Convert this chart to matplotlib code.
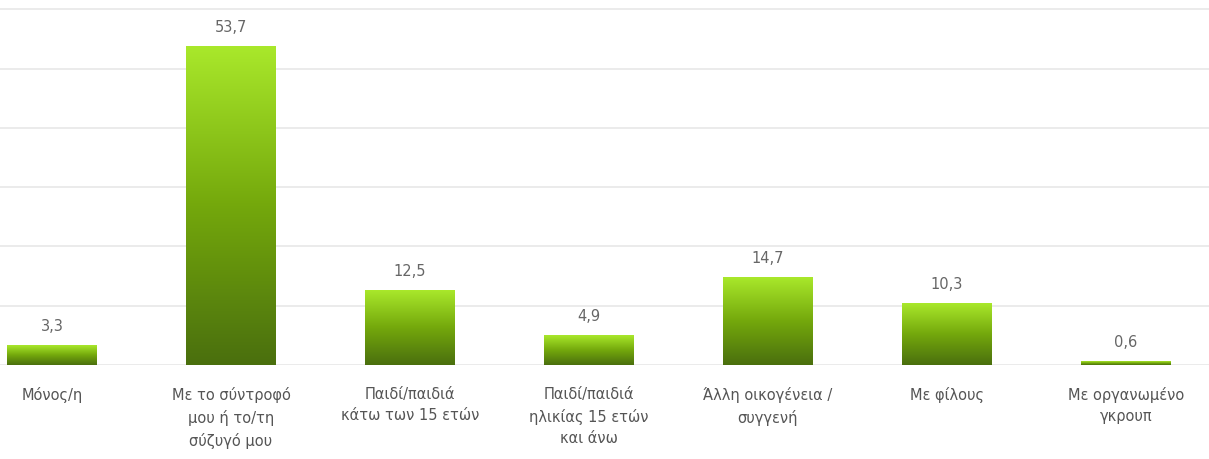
import matplotlib
matplotlib.use("Agg")
import matplotlib.pyplot as plt
import numpy as np
from matplotlib.colors import LinearSegmentedColormap

categories = ["Μόνος/η", "Με το σύντροφό\nμου ή το/τη\nσύζυγό μου", "Παιδί/παιδιά\nκάτω των 15 ετών",
              "Παιδί/παιδιά\nηλικίας 15 ετών\nκαι άνω", "Άλλη οικογένεια /\nσυγγενή", "Με φίλους",
              "Με οργανωμένο\nγκρουπ"]
values = [3.3, 53.7, 12.5, 4.9, 14.7, 10.3, 0.6]
value_labels = ["3,3", "53,7", "12,5", "4,9", "14,7", "10,3", "0,6"]
grid_ticks = [0, 10, 20, 30, 40, 50, 60]

plt.rcParams['font.family'] = ['DejaVu Sans']

fig = plt.figure(figsize=(12.09, 4.59), dpi=100)
ax = fig.add_axes([0, 94/459, 1, 365/459])
x = np.arange(len(categories))
bars = ax.bar(x, values, width=0.5, color='none', edgecolor='none', zorder=2)

cmap = LinearSegmentedColormap.from_list('g', ['#4a6f0e', '#74a80c', '#a9e82b'])
grad = np.linspace(0, 1, 256).reshape(-1, 1)
for b in bars:
    x0, y0 = b.get_x(), b.get_y()
    w, h = b.get_width(), b.get_height()
    ax.imshow(grad, cmap=cmap, origin='lower', aspect='auto',
              extent=[x0, x0 + w, y0, y0 + max(h, 0.3)], zorder=3, interpolation='bilinear')

for xi, v, lab in zip(x, values, value_labels):
    ax.text(xi, v + 2.0, lab, ha='center', va='bottom', fontsize=10.5, color='#666666')

ax.set_xlim(-52/179, (1209-52)/179)
ax.set_ylim(0, 61.6)
ax.set_yticks(grid_ticks)
ax.yaxis.grid(True, color='#e8e8e8', linewidth=1.2)
ax.set_axisbelow(True)
ax.tick_params(axis='y', left=False, labelleft=False)
ax.tick_params(axis='x', bottom=False, pad=12)
ax.set_xticks(x)
ax.set_xticklabels(categories, fontsize=10.5, color='#555555', linespacing=1.55)
for s in ax.spines.values():
    s.set_visible(False)

fig.savefig('out.png', dpi=100)
